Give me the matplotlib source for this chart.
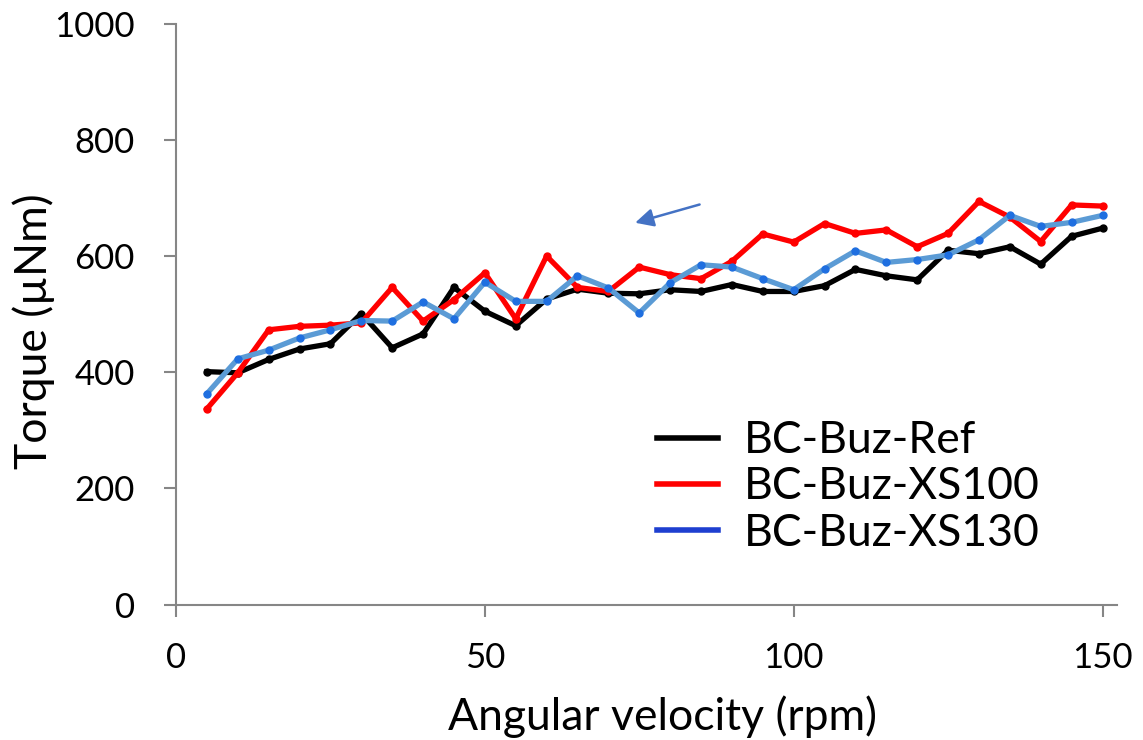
import matplotlib
matplotlib.use("Agg")
import matplotlib.pyplot as plt
from matplotlib.lines import Line2D

plt.rcParams['font.family'] = ['Lato', 'DejaVu Sans']

# angular velocity steps (rpm)
rpm = [5, 10, 15, 20, 25, 30, 35, 40, 45, 50,
       55, 60, 65, 70, 75, 80, 85, 90, 95, 100,
       105, 110, 115, 120, 125, 130, 135, 140, 145, 150]

# measured torque (uNm)
torque_ref = [401, 399, 422, 440, 449, 501, 442, 466, 546, 505,
              480, 526, 543, 536, 535, 542, 539, 551, 539, 539,
              549, 577, 566, 559, 610, 604, 616, 586, 634, 648]
torque_xs100 = [337, 399, 473, 479, 481, 485, 546, 488, 525, 571,
                492, 600, 546, 539, 581, 568, 561, 591, 638, 624,
                656, 639, 645, 616, 639, 694, 667, 625, 688, 686]
torque_xs130 = [363, 423, 438, 459, 473, 489, 488, 521, 492, 555,
                522, 522, 566, 545, 502, 554, 585, 581, 561, 542,
                578, 609, 589, 594, 602, 628, 670, 651, 658, 670]

series_names = ['BC-Buz-Ref', 'BC-Buz-XS100', 'BC-Buz-XS130']

fig = plt.figure(figsize=(11.43, 7.40), dpi=100)
ax = fig.add_axes([0.154, 0.183, 0.823, 0.785])

ax.plot(rpm, torque_ref, color='black', lw=3.8, marker='o', ms=5, zorder=3)
ax.plot(rpm, torque_xs100, color='#ff0000', lw=3.8, marker='o', ms=5, zorder=4)
ax.plot(rpm, torque_xs130, color='#5b9bd5', lw=3.8, marker='o', ms=5,
        mfc='#1f6fe0', mec='#1f6fe0', zorder=5)

# small arrow pointing left above the curves
ax.annotate('', xy=(73.9, 656), xytext=(85.2, 690),
            arrowprops=dict(arrowstyle='-|>,head_length=1.1,head_width=0.55',
                            color='#4472c4', lw=1.8))

ax.set_xlim(0, 152.3)
ax.set_ylim(0, 1000)
ax.set_xticks([0, 50, 100, 150])
ax.set_yticks([0, 200, 400, 600, 800, 1000])

for side in ['top', 'right']:
    ax.spines[side].set_visible(False)
for side in ['left', 'bottom']:
    ax.spines[side].set_color('#868686')
    ax.spines[side].set_linewidth(1.5)
ax.tick_params(axis='both', direction='out', length=8.6, width=1.5,
               color='#868686', labelsize=25)
ax.tick_params(axis='y', pad=21)
ax.tick_params(axis='x', pad=18)

ax.set_xlabel('Angular velocity (rpm)', fontsize=32)
ax.set_ylabel('Torque (\u00b5Nm)', fontsize=32)
ax.xaxis.set_label_coords(0.5175, -0.156)
ax.yaxis.set_label_coords(-0.129, 0.471)

handles = [Line2D([], [], color='black', lw=4),
           Line2D([], [], color='#ff0000', lw=4),
           Line2D([], [], color='#1e3fd0', lw=4)]
ax.legend(handles, series_names, loc='center left',
          bbox_to_anchor=(0.575, 0.342), bbox_transform=fig.transFigure,
          frameon=False, fontsize=32, handlelength=1.36, handletextpad=0.6,
          labelspacing=0.12, borderpad=0, borderaxespad=0)

fig.savefig('out.png', dpi=100)
